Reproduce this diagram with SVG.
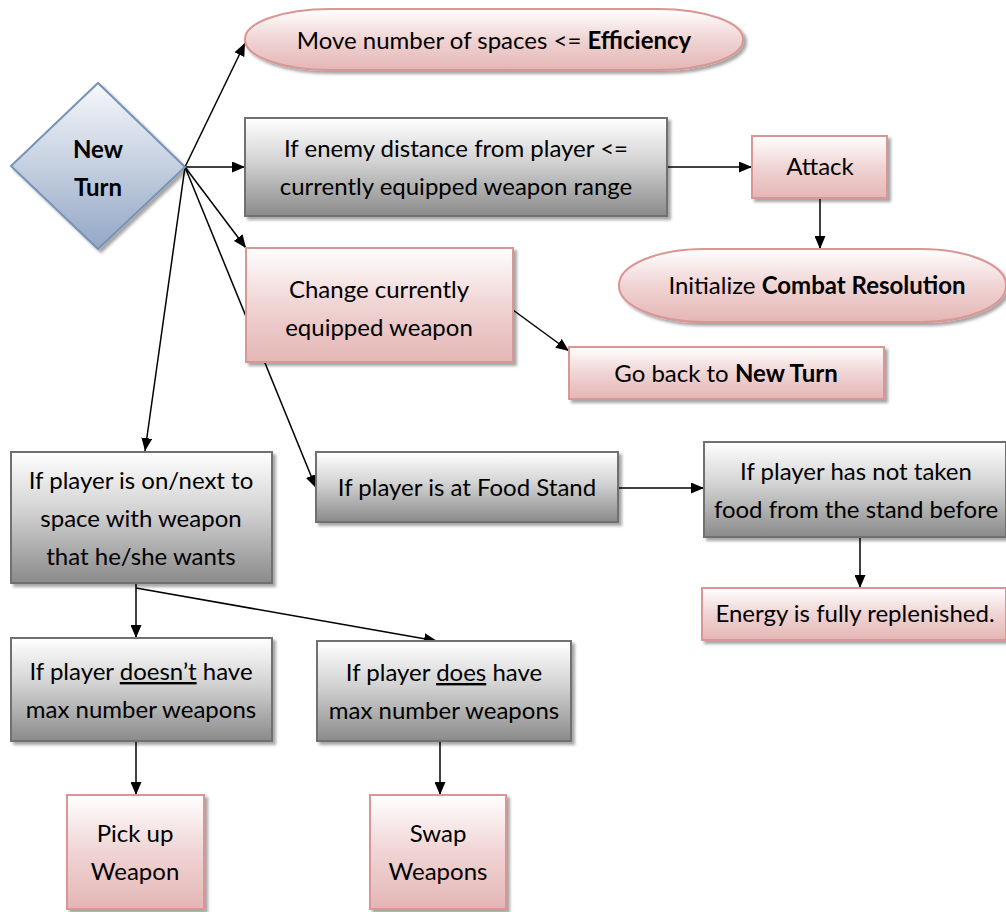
<svg xmlns="http://www.w3.org/2000/svg" width="1006" height="912" viewBox="0 0 1006 912">
<defs>
<linearGradient id="gGray" x1="0" y1="0" x2="0" y2="1">
<stop offset="0" stop-color="#ffffff"/>
<stop offset="0.45" stop-color="#d2d2d2"/>
<stop offset="1" stop-color="#8a8a8a"/>
</linearGradient>
<linearGradient id="gPink" x1="0" y1="0" x2="0" y2="1">
<stop offset="0" stop-color="#ffffff"/>
<stop offset="0.5" stop-color="#f0d4d4"/>
<stop offset="1" stop-color="#e4b6b5"/>
</linearGradient>
<linearGradient id="gBlue" x1="0" y1="0" x2="0" y2="1">
<stop offset="0" stop-color="#f6f8fb"/>
<stop offset="1" stop-color="#93a7c5"/>
</linearGradient>
<filter id="sh" x="-10%" y="-10%" width="130%" height="140%">
<feDropShadow dx="3" dy="3" stdDeviation="1.5" flood-color="#000" flood-opacity="0.35"/>
</filter>
<marker id="ar" markerUnits="userSpaceOnUse" markerWidth="13" markerHeight="11" viewBox="0 0 13 11" refX="13" refY="5.5" orient="auto">
<path d="M0,0 L13,5.5 L0,11 z" fill="#000"/>
</marker>
</defs>
<style>
.gray{fill:url(#gGray);stroke:#6f6f6f;stroke-width:2;filter:url(#sh)}
.pink{fill:url(#gPink);stroke:#d99694;stroke-width:2;filter:url(#sh)}
.blue{fill:url(#gBlue);stroke:#7893b8;stroke-width:2;filter:url(#sh)}
text{font-family:Lato,"Open Sans","Liberation Sans",sans-serif;font-size:24px;fill:#000;text-anchor:middle}
.b{font-weight:bold}
.c line{stroke:#000;stroke-width:1.5;marker-end:url(#ar)}
</style>
<rect width="1006" height="912" fill="#fff"/>
<g id="connectors" class="c">
<line x1="185" y1="167" x2="245" y2="43"/>
<line x1="185" y1="167" x2="245" y2="167"/>
<line x1="185" y1="167" x2="246" y2="248"/>
<line x1="185" y1="167" x2="145" y2="451"/>
<line x1="185" y1="167" x2="316" y2="488"/>
<line x1="667" y1="167" x2="752" y2="167"/>
<line x1="820" y1="198" x2="820" y2="249"/>
<line x1="513" y1="310" x2="569" y2="351"/>
<line x1="618" y1="488" x2="704" y2="488"/>
<line x1="860" y1="537" x2="860" y2="588"/>
<line x1="136" y1="584" x2="136" y2="638"/>
<line x1="136" y1="588" x2="437" y2="641"/>
<line x1="136" y1="741" x2="136" y2="795"/>
<line x1="440" y1="741" x2="440" y2="795"/>
</g>
<g id="newTurn">
<polygon class="blue" points="11,166 98,83 185,167 98,249"/>
<text class="b" x="98" y="158">New</text>
<text class="b" x="98" y="196">Turn</text>
</g>
<g id="move">
<rect class="pink" x="245" y="9" width="498" height="61" rx="85" ry="30"/>
<text x="494" y="49">Move number of spaces &lt;= <tspan class="b">Efficiency</tspan></text>
</g>
<g id="enemy">
<rect class="gray" x="245" y="118" width="422" height="98"/>
<text x="456" y="157">If enemy distance from player &lt;=</text>
<text x="456" y="195">currently equipped weapon range</text>
</g>
<g id="attack">
<rect class="pink" x="752" y="136" width="135" height="62"/>
<text x="820" y="175">Attack</text>
</g>
<g id="combat">
<rect class="pink" x="619" y="249" width="387" height="73" rx="85" ry="36"/>
<text x="817" y="294">Initialize <tspan class="b">Combat Resolution</tspan></text>
</g>
<g id="change">
<rect class="pink" x="246" y="248" width="267" height="114"/>
<text x="379" y="298">Change currently</text>
<text x="379" y="336">equipped weapon</text>
</g>
<g id="goBack">
<rect class="pink" x="569" y="347" width="315" height="52"/>
<text x="726" y="382">Go back to <tspan class="b">New Turn</tspan></text>
</g>
<g id="weaponSpace">
<rect class="gray" x="11" y="452" width="261" height="131"/>
<text x="141" y="489">If player is on/next to</text>
<text x="141" y="527">space with weapon</text>
<text x="141" y="565">that he/she wants</text>
</g>
<g id="foodStand">
<rect class="gray" x="316" y="452" width="302" height="70"/>
<text x="467" y="496">If player is at Food Stand</text>
</g>
<g id="notTaken">
<rect class="gray" x="704" y="442" width="302" height="95"/>
<text x="856" y="480">If player has not taken</text>
<text x="856" y="518">food from the stand before</text>
</g>
<g id="energy">
<rect class="pink" x="702" y="588" width="304" height="52"/>
<text x="855" y="622">Energy is fully replenished.</text>
</g>
<g id="doesnt">
<rect class="gray" x="11" y="638" width="261" height="103"/>
<text x="141" y="680">If player <tspan text-decoration="underline">doesn’t</tspan> have</text>
<text x="141" y="718">max number weapons</text>
</g>
<g id="does">
<rect class="gray" x="317" y="641" width="254" height="100"/>
<text x="444" y="681">If player <tspan text-decoration="underline">does</tspan> have</text>
<text x="444" y="719">max number weapons</text>
</g>
<g id="pickUp">
<rect class="pink" x="67" y="795" width="137" height="114"/>
<text x="135" y="842">Pick up</text>
<text x="135" y="880">Weapon</text>
</g>
<g id="swap">
<rect class="pink" x="370" y="795" width="136" height="114"/>
<text x="438" y="842">Swap</text>
<text x="438" y="880">Weapons</text>
</g>
</svg>
